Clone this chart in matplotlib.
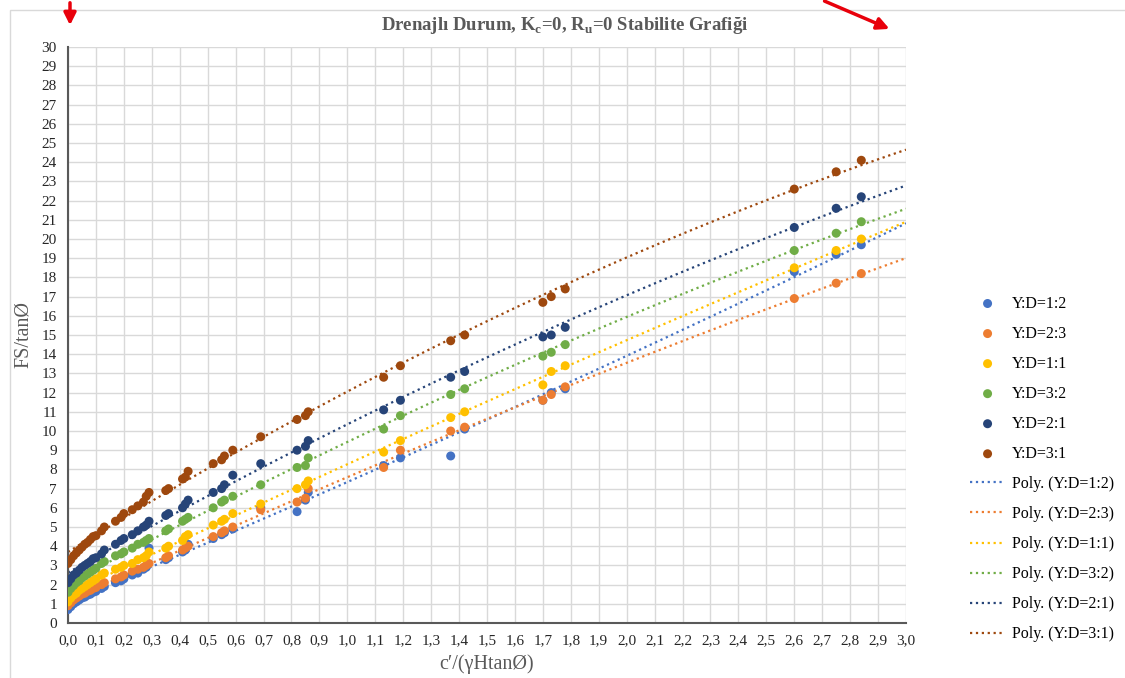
import numpy as np
import matplotlib.pyplot as plt
from matplotlib.patches import FancyArrowPatch, Rectangle
from matplotlib.ticker import FuncFormatter

# x values c'/(gamma H tan phi)
x = [0.0, 0.01, 0.02, 0.03, 0.04, 0.05, 0.06, 0.07, 0.08, 0.09, 0.10,
     0.12, 0.13, 0.17, 0.19, 0.20, 0.23, 0.25, 0.27, 0.28, 0.29,
     0.35, 0.36, 0.41, 0.42, 0.43, 0.52, 0.55, 0.56, 0.59, 0.69,
     0.82, 0.85, 0.86, 1.13, 1.19, 1.37, 1.42, 1.70, 1.73, 1.78,
     2.60, 2.75, 2.84]

yd_12 = [0.7, 0.85, 1.0, 1.1, 1.2, 1.3, 1.35, 1.45, 1.5, 1.6, 1.65,
         1.8, 1.9, 2.1, 2.2, 2.3, 2.5, 2.6, 2.8, 2.9, 3.9,
         3.3, 3.4, 3.7, 3.8, 4.1, 4.4, 4.6, 4.7, 4.9, 6.0,
         5.8, 6.4, 6.8, 8.2, 8.6, 8.7, 10.1, 11.6, 12.0, 12.2,
         18.3, 19.2, 19.7]
yd_23 = [0.9, 1.05, 1.2, 1.3, 1.4, 1.5, 1.55, 1.65, 1.7, 1.8, 1.85,
         2.0, 2.1, 2.3, 2.4, 2.5, 2.7, 2.8, 2.9, 3.0, 3.1,
         3.4, 3.5, 3.8, 3.9, 4.0, 4.5, 4.7, 4.8, 5.0, 5.9,
         6.3, 6.5, 7.0, 8.1, 9.0, 10.0, 10.2, 11.6, 11.9, 12.3,
         16.9, 17.7, 18.2]
yd_11 = [1.1, 1.3, 1.45, 1.55, 1.7, 1.8, 1.9, 2.0, 2.1, 2.2, 2.3,
         2.5, 2.6, 2.8, 2.9, 3.0, 3.1, 3.3, 3.4, 3.5, 3.7,
         3.9, 4.0, 4.3, 4.5, 4.6, 5.1, 5.3, 5.4, 5.7, 6.2,
         7.0, 7.2, 7.4, 8.9, 9.5, 10.7, 11.0, 12.4, 13.1, 13.4,
         18.5, 19.4, 20.0]
yd_32 = [1.6, 1.8, 1.95, 2.1, 2.2, 2.35, 2.45, 2.55, 2.65, 2.75, 2.85,
         3.1, 3.2, 3.5, 3.6, 3.7, 3.9, 4.1, 4.2, 4.3, 4.4,
         4.8, 4.9, 5.3, 5.4, 5.5, 6.0, 6.3, 6.4, 6.6, 7.2,
         8.1, 8.2, 8.6, 10.1, 10.8, 11.9, 12.2, 13.9, 14.1, 14.5,
         19.4, 20.3, 20.9]
yd_21 = [2.1, 2.3, 2.5, 2.6, 2.75, 2.9, 3.0, 3.1, 3.2, 3.35, 3.4,
         3.6, 3.8, 4.1, 4.3, 4.4, 4.6, 4.8, 5.0, 5.1, 5.3,
         5.6, 5.7, 6.0, 6.2, 6.4, 6.8, 7.0, 7.2, 7.7, 8.3,
         9.0, 9.2, 9.5, 11.1, 11.6, 12.8, 13.1, 14.9, 15.0, 15.4,
         20.6, 21.6, 22.2]
yd_31 = [3.1, 3.3, 3.5, 3.65, 3.8, 3.95, 4.1, 4.2, 4.35, 4.5, 4.55,
         4.8, 5.0, 5.3, 5.5, 5.7, 5.9, 6.1, 6.3, 6.6, 6.8,
         6.9, 7.0, 7.5, 7.6, 7.9, 8.3, 8.5, 8.7, 9.0, 9.7,
         10.6, 10.8, 11.0, 12.8, 13.4, 14.7, 15.0, 16.7, 17.0, 17.4,
         22.6, 23.5, 24.1]

labels = ['Y:D=1:2', 'Y:D=2:3', 'Y:D=1:1', 'Y:D=3:2', 'Y:D=2:1', 'Y:D=3:1']
series = [yd_12, yd_23, yd_11, yd_32, yd_21, yd_31]
colors = ['#4472C4', '#ED7D31', '#FFC000', '#70AD47', '#264478', '#9E480E']

plt.rcParams['font.family'] = ['Liberation Serif', 'DejaVu Serif']

fig = plt.figure(figsize=(11.25, 6.78), dpi=100)
ax = fig.add_axes([68/1125, 1-623/678, (906-68)/1125, (623-47)/678])

xx = np.linspace(0, 3.0, 200)
pts = []
lines = []
for ys, lab, c in zip(series, labels, colors):
    p = ax.scatter(x, ys, s=42, color=c, label=lab, zorder=3, edgecolors='none')
    pts.append(p)
# polynomial (order 2) trendlines, like Excel "Poly."
for ys, lab, c in zip(series, labels, colors):
    k = np.polyfit(x, ys, 2)
    l, = ax.plot(xx, np.polyval(k, xx), ':', color=c, lw=1.6,
                 label='Poly. (' + lab + ')', zorder=2)
    lines.append(l)

ax.set_xlim(0, 3.0)
ax.set_ylim(0, 30)
ax.set_xticks(np.arange(0, 3.01, 0.1))
ax.set_yticks(np.arange(0, 31, 1))
ax.xaxis.set_major_formatter(FuncFormatter(lambda v, p: ('%.1f' % v).replace('.', ',')))
ax.grid(True, color='#d9d9d9', lw=1.0)
ax.set_axisbelow(True)
for s in ['top', 'right']:
    ax.spines[s].set_visible(False)
for s in ['left', 'bottom']:
    ax.spines[s].set_color('#595959')
    ax.spines[s].set_linewidth(1.5)
ax.tick_params(length=0, labelsize=11, colors='#262626', pad=8)

ax.set_xlabel("c\u2032/(\u03b3Htan\u00d8)", fontsize=14.5, color='#595959', labelpad=5)
ax.set_ylabel("FS/tan\u00d8", fontsize=14.5, color='#595959', labelpad=6)

fig.text(565/1125, 1-25/678,
         'Drenajl\u0131 Durum, K$_\\mathregular{c}$=0, R$_\\mathregular{u}$=0 Stabilite Grafi\u011fi',
         ha='center', va='center', fontsize=13.5, fontweight='bold', color='#595959')

fig.legend(pts + lines, labels + ['Poly. (' + l + ')' for l in labels],
           loc='center left', bbox_to_anchor=(970/1125, 1-469/678),
           frameon=False, fontsize=11.5, labelspacing=0.88, handlelength=2.2,
           handletextpad=0.45, borderpad=0, borderaxespad=0)

# chart border and screenshot arrows
fig.patches.append(Rectangle((10/1125, -0.05), 1.2, 1-10/678+0.05, transform=fig.transFigure,
                             fill=False, ec='#d9d9d9', lw=1))
fig.patches.append(FancyArrowPatch((70/1125, 1.0), (70/1125, 1-28/678), transform=fig.transFigure,
                                   arrowstyle='-|>', mutation_scale=18, color='#e8000b', lw=2.5))
fig.patches.append(FancyArrowPatch((822/1125, 1.0), (892/1125, 1-30/678), transform=fig.transFigure,
                                   arrowstyle='-|>', mutation_scale=18, color='#e8000b', lw=2.5))

fig.savefig('out.png', dpi=100)
